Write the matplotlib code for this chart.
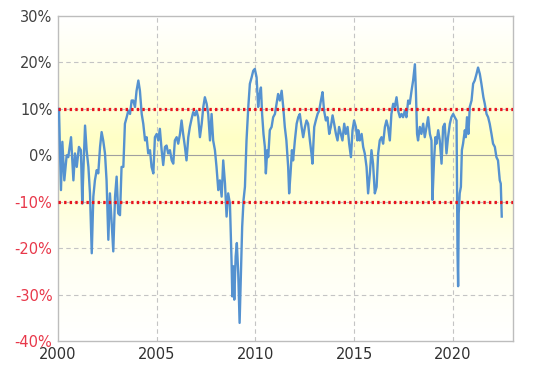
import numpy as np
import matplotlib
matplotlib.use("Agg")
import matplotlib.pyplot as plt
from matplotlib.colors import LinearSegmentedColormap

# decimal year, percent
years = [
    2000.05, 2000.15, 2000.22, 2000.32, 2000.44, 2000.52, 2000.66, 2000.78, 2000.86, 2000.95,
    2001.06, 2001.16, 2001.23, 2001.28, 2001.37, 2001.45, 2001.54, 2001.62, 2001.71, 2001.79,
    2001.87, 2001.96, 2002.04, 2002.13, 2002.21, 2002.29, 2002.38, 2002.46, 2002.55, 2002.63,
    2002.72, 2002.80, 2002.89, 2002.97, 2003.05, 2003.14, 2003.22, 2003.31, 2003.39, 2003.48,
    2003.56, 2003.65, 2003.73, 2003.81, 2003.90, 2003.98, 2004.07, 2004.15, 2004.24, 2004.32,
    2004.41, 2004.49, 2004.57, 2004.66, 2004.74, 2004.83, 2004.91, 2005.00, 2005.08, 2005.16,
    2005.25, 2005.33, 2005.42, 2005.50, 2005.58, 2005.67, 2005.76, 2005.84, 2005.92, 2006.01,
    2006.09, 2006.18, 2006.26, 2006.34, 2006.43, 2006.51, 2006.60, 2006.68, 2006.77, 2006.85,
    2006.94, 2007.02, 2007.10, 2007.19, 2007.28, 2007.36, 2007.44, 2007.53, 2007.61, 2007.70,
    2007.78, 2007.86, 2007.95, 2008.03, 2008.12, 2008.20, 2008.29, 2008.37, 2008.46, 2008.54,
    2008.62, 2008.71, 2008.79, 2008.83, 2008.88, 2008.93, 2009.00, 2009.06, 2009.13, 2009.20,
    2009.27, 2009.33, 2009.40, 2009.47, 2009.55, 2009.64, 2009.72, 2009.81, 2009.89, 2009.97,
    2010.06, 2010.14, 2010.19, 2010.28, 2010.34, 2010.41, 2010.48, 2010.53, 2010.60, 2010.65,
    2010.73, 2010.82, 2010.90, 2010.99, 2011.07, 2011.15, 2011.24, 2011.33, 2011.41, 2011.49,
    2011.57, 2011.66, 2011.71, 2011.78, 2011.85, 2011.91, 2012.00, 2012.09, 2012.17, 2012.25,
    2012.34, 2012.42, 2012.51, 2012.59, 2012.67, 2012.76, 2012.84, 2012.89, 2012.98, 2013.06,
    2013.15, 2013.23, 2013.32, 2013.40, 2013.48, 2013.57, 2013.65, 2013.74, 2013.82, 2013.91,
    2013.99, 2014.08, 2014.16, 2014.24, 2014.33, 2014.41, 2014.50, 2014.58, 2014.67, 2014.75,
    2014.84, 2014.92, 2015.00, 2015.09, 2015.17, 2015.21, 2015.29, 2015.38, 2015.46, 2015.54,
    2015.63, 2015.71, 2015.80, 2015.88, 2015.96, 2016.05, 2016.14, 2016.22, 2016.30, 2016.39,
    2016.47, 2016.56, 2016.64, 2016.72, 2016.81, 2016.89, 2016.98, 2017.06, 2017.15, 2017.23,
    2017.32, 2017.40, 2017.48, 2017.57, 2017.65, 2017.74, 2017.82, 2017.91, 2017.99, 2018.08,
    2018.13, 2018.19, 2018.24, 2018.33, 2018.41, 2018.50, 2018.58, 2018.67, 2018.75, 2018.84,
    2018.92, 2018.97, 2019.05, 2019.12, 2019.17, 2019.26, 2019.34, 2019.43, 2019.51, 2019.59,
    2019.68, 2019.76, 2019.85, 2019.93, 2020.02, 2020.10, 2020.19, 2020.24, 2020.27, 2020.30,
    2020.35, 2020.41, 2020.46, 2020.52, 2020.61, 2020.66, 2020.72, 2020.79, 2020.86, 2020.95,
    2021.03, 2021.11, 2021.20, 2021.28, 2021.37, 2021.45, 2021.55, 2021.62, 2021.71, 2021.79,
    2021.87, 2021.96, 2022.04, 2022.13, 2022.21, 2022.29, 2022.38, 2022.43, 2022.48,
]
pct = [
    10.0, -7.5, 2.9, -5.4, 0.0, -0.4, 3.9, -5.4, 0.4, -2.5,
    1.8, 1.1, -10.4, -3.9, 6.4, 1.1, -2.5, -8.2, -21.1, -8.9,
    -5.4, -3.2, -3.9, 1.8, 5.0, 3.2, 0.4, -5.4, -18.2, -8.2,
    -14.6, -20.7, -8.9, -4.6, -12.5, -12.9, -2.5, -2.5, 6.8, 8.2,
    9.6, 8.9, 11.8, 11.8, 10.4, 13.9, 16.1, 13.9, 8.9, 6.8,
    3.2, 3.9, 0.4, 1.1, -2.5, -3.9, 3.9, 4.6, 3.2, 5.7,
    1.1, -2.1, 1.8, 2.1, 0.4, 1.1, -1.1, -1.8, 3.2, 3.9,
    2.5, 4.6, 7.5, 4.6, 1.8, -1.1, 3.9, 6.1, 7.9, 9.3,
    8.6, 9.6, 8.2, 3.9, 6.8, 10.4, 12.5, 11.1, 8.9, 3.2,
    8.9, 3.2, 1.1, -2.5, -7.5, -5.4, -8.9, -1.1, -6.1, -13.2,
    -8.2, -10.4, -22.5, -30.4, -23.9, -31.1, -21.8, -18.9, -25.4, -36.1,
    -25.4, -15.4, -9.6, -6.8, 3.2, 10.4, 15.4, 16.8, 18.2, 18.6,
    16.8, 10.4, 12.5, 14.6, 8.9, 4.6, 1.8, -3.9, 1.1, -0.4,
    5.4, 6.1, 8.2, 8.9, 11.1, 13.2, 11.8, 13.9, 10.4, 6.1,
    3.2, -2.5, -8.2, -3.9, 1.1, -1.1, 3.2, 6.8, 8.2, 8.9,
    6.1, 3.9, 6.1, 7.5, 6.8, 3.2, 0.4, -1.8, 6.1, 7.5,
    8.9, 9.6, 11.8, 13.6, 9.6, 7.5, 8.2, 4.6, 6.1, 8.6,
    6.8, 4.6, 3.2, 6.1, 4.6, 3.2, 6.8, 4.6, 6.1, 2.5,
    -0.4, 5.4, 7.5, 6.1, 3.2, 5.4, 3.2, 4.6, 1.8, 0.4,
    -2.5, -8.2, -3.9, 1.1, -1.8, -8.2, -6.8, 0.4, 3.2, 3.9,
    2.5, 6.1, 7.5, 6.1, 3.2, 8.9, 11.1, 10.4, 12.5, 9.6,
    8.2, 8.9, 8.2, 9.6, 8.2, 11.8, 11.1, 13.9, 16.1, 19.6,
    13.9, 4.6, 3.2, 6.1, 4.6, 6.8, 3.9, 6.1, 8.2, 4.6,
    3.2, -9.6, -1.1, 3.9, 2.5, 5.4, 3.2, -1.8, 6.1, 6.8,
    0.4, 3.9, 6.8, 8.2, 8.9, 8.2, 7.5, -21.1, -28.2, -12.5,
    -8.2, -6.8, 1.1, 2.5, 5.4, 3.9, 8.2, 4.6, 10.4, 11.8,
    15.4, 16.1, 17.5, 18.9, 17.5, 15.4, 12.5, 11.1, 8.9, 8.2,
    6.8, 4.6, 2.5, 1.8, -0.4, -1.1, -5.4, -6.1, -13.2,
]

y_ticks = [-40, -30, -20, -10, 0, 10, 20, 30]
x_ticks = [2000, 2005, 2010, 2015, 2020]
band_levels = [10, -10]

fig = plt.figure(figsize=(5.4, 3.74), dpi=100)
ax = fig.add_axes([58/540, 1-341/374, (513-58)/540, (341-16)/374])

xmin, xmax = 2000, 2023.05
ymin, ymax = -40, 30

# background gradient
cmap = LinearSegmentedColormap.from_list(
    "bg",
    [(0.0, "#FFFFFF"), (0.25, "#FFFFF2"), (0.50, "#FFFFD2"), (0.62, "#FFFFC6"),
     (0.80, "#FFFFE8"), (1.0, "#FFFFFF")])
grad = np.linspace(1, 0, 256).reshape(-1, 1)
ax.imshow(grad, aspect="auto", cmap=cmap, extent=[xmin, xmax, ymin, ymax],
          origin="upper", zorder=0, vmin=0, vmax=1)

ax.set_xlim(xmin, xmax)
ax.set_ylim(ymin, ymax)

for yv in y_ticks:
    if yv == 0:
        ax.axhline(yv, color="#A0A0A0", lw=0.8, zorder=1)
    elif ymin < yv < ymax:
        ax.axhline(yv, color="#C4C4C4", lw=0.8, ls=(0, (4, 3)), zorder=1)
for xv in x_ticks[1:]:
    ax.axvline(xv, color="#C4C4C4", lw=0.8, ls=(0, (4, 3)), zorder=1)

ax.plot(years, pct, color="#5592D0", lw=1.7, zorder=3)

for lv in band_levels:
    ax.axhline(lv, color="#E8141E", lw=2.3, ls=(0, (0.75, 1.0)), zorder=4,
               dash_capstyle="butt")

ax.set_xticks(x_ticks)
ax.set_xticklabels([str(x) for x in x_ticks])
ax.set_yticks(y_ticks)
ax.set_yticklabels([f"{v}%" for v in y_ticks])
for lbl, v in zip(ax.get_yticklabels(), y_ticks):
    lbl.set_color("#E8384A" if v < 0 else "#404040")
for lbl in ax.get_xticklabels():
    lbl.set_color("#303030")
ax.tick_params(length=0, labelsize=10.5, pad=4)
for s in ax.spines.values():
    s.set_color("#BDBDBD")
    s.set_linewidth(1.0)

fig.savefig("out.png", dpi=100)
